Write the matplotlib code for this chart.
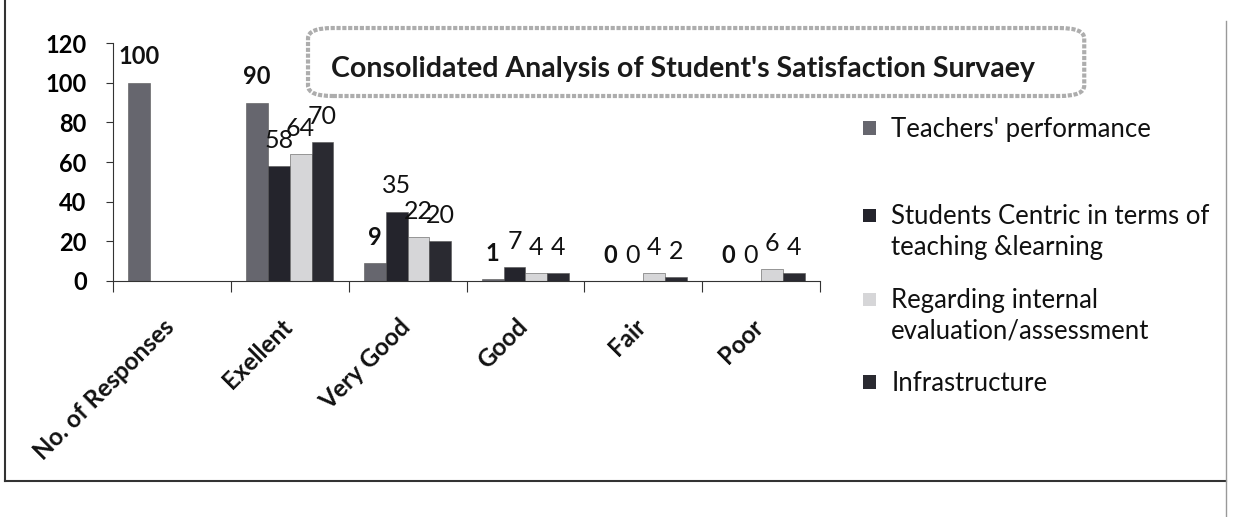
import numpy as np
import matplotlib.pyplot as plt
from matplotlib.patches import FancyBboxPatch, Rectangle

# categories and series
categories = ['No. of Responses', 'Exellent', 'Very Good', 'Good', 'Fair', 'Poor']
series_names = ["Teachers' performance",
                "Students Centric in terms of\nteaching &learning",
                "Regarding internal\nevaluation/assessment",
                "Infrastructure"]
teachers = [100, 90, 9, 1, 0, 0]
students = [np.nan, 58, 35, 7, 0, 0]
internal = [np.nan, 64, 22, 4, 4, 6]
infra = [np.nan, 70, 20, 4, 2, 4]
all_series = [teachers, students, internal, infra]

colors = ['#66666e', '#24242c', '#d6d6d8', '#2a2a31']
label_bold = [True, False, False, False]

plt.rcParams['font.family'] = ['Lato', 'DejaVu Sans']

fig = plt.figure(figsize=(12.38, 5.17), dpi=100)
ax = fig.add_axes([0.0913, 0.4565, 0.5711, 0.4603])

x = np.arange(len(categories))
w = 0.185
for i, (vals, col) in enumerate(zip(all_series, colors)):
    pos = x + (i - 1.5) * w
    ax.bar(pos, vals, width=w, color=col, edgecolor='#555555', linewidth=0.4)
    for p, v in zip(pos, vals):
        if np.isnan(v):
            continue
        ax.text(p, v + 13, f'{v:g}', ha='center', va='center',
                fontsize=17 if label_bold[i] else 18,
                fontweight='bold' if label_bold[i] else 'normal',
                color='#111111')

ax.set_xlim(-0.5, len(categories) - 0.5)
ax.set_ylim(0, 120)
ax.set_yticks(range(0, 121, 20))
ax.set_xticks(np.arange(-0.5, len(categories), 1.0))
ax.set_xticklabels([])
ax.tick_params(axis='x', length=8, direction='out', color='#333333')
ax.tick_params(axis='y', length=5, direction='out', color='#333333',
               labelsize=17, pad=14)
for t in ax.get_yticklabels():
    t.set_fontweight('bold')
for i, c in enumerate(categories):
    ax.text(i - 0.08, -17, c, rotation=45, ha='right', va='top',
            fontsize=17.5, fontweight='bold', rotation_mode='anchor',
            color='#111111')
for s in ['top', 'right']:
    ax.spines[s].set_visible(False)
ax.spines['left'].set_color('#333333')
ax.spines['bottom'].set_color('#333333')

# title box
fig.add_artist(FancyBboxPatch((0.2488, 0.8143), 0.627, 0.1315,
                              boxstyle='round,pad=0,rounding_size=0.02',
                              transform=fig.transFigure, facecolor='white',
                              edgecolor='#adadad', linewidth=3,
                              linestyle=(0, (1, 0.4))))
fig.text(0.552, 0.866, "Consolidated Analysis of Student's Satisfaction Survaey",
         ha='center', va='center', fontsize=20.5, fontweight='bold', color='#1a1a1a')

# legend
leg_y = [0.752, 0.583, 0.421, 0.261]
for name, col, yy in zip(series_names, colors, leg_y):
    fig.add_artist(Rectangle((0.697, yy - 0.013), 0.0105, 0.026,
                             transform=fig.transFigure, facecolor=col,
                             edgecolor='none'))
    fig.text(0.720, yy + 0.022, name, ha='left', va='top', fontsize=18.5,
             color='#111111', linespacing=1.3)

# outer frame
fig.add_artist(plt.Line2D([0.004, 0.004], [0.07, 1.0], color='#333333', lw=1.5))
fig.add_artist(plt.Line2D([0.004, 0.99], [0.07, 0.07], color='#333333', lw=1.5))
fig.add_artist(plt.Line2D([0.99, 0.99], [0.0, 0.96], color='#999999', lw=1))

fig.savefig('out.png', dpi=100)
